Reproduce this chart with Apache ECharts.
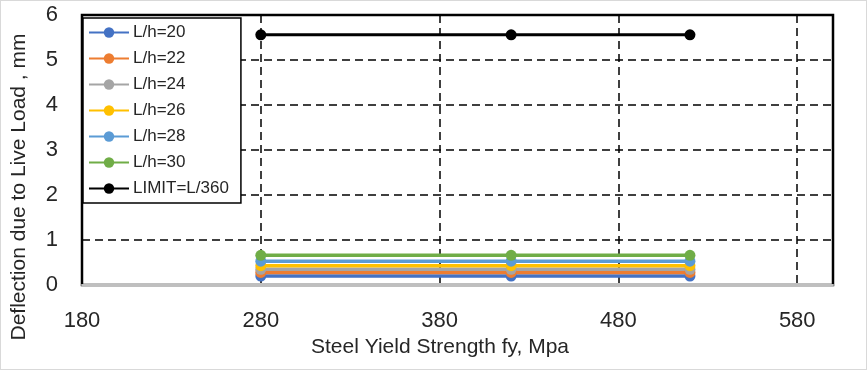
<!DOCTYPE html>
<html><head><meta charset="utf-8">
<script src="https://cdn.jsdelivr.net/npm/echarts@6/dist/echarts.min.js"></script>
<style>html,body{margin:0;padding:0;background:#fff}#c{width:867px;height:370px;box-sizing:border-box;border:1px solid #d9d9d9}</style>
</head><body><div id="c"></div>
<script>
const fy = [280, 420, 520];
const seriesNames = ['L/h=20','L/h=22','L/h=24','L/h=26','L/h=28','L/h=30','LIMIT=L/360'];
const lh20 = [0.20, 0.20, 0.20];
const lh22 = [0.28, 0.28, 0.28];
const lh24 = [0.35, 0.35, 0.35];
const lh26 = [0.43, 0.43, 0.43];
const lh28 = [0.53, 0.53, 0.53];
const lh30 = [0.66, 0.66, 0.66];
const limit = [5.56, 5.56, 5.56];
const colors = ['#4472c4','#ed7d31','#a5a5a5','#ffc000','#5b9bd5','#70ad47','#000000'];
const all = [lh20, lh22, lh24, lh26, lh28, lh30, limit];
const font = 'Liberation Sans';
const chart = echarts.init(document.getElementById('c'));
chart.setOption({
  animation: false,
  textStyle: {fontFamily: font},
  grid: {left: 81, right: 33, top: 14, bottom: 84, show: true, borderColor: '#000', borderWidth: 2.5, backgroundColor: '#fff'},
  legend: {
    orient: 'vertical', left: 82, top: 17, itemWidth: 40, itemHeight: 13, itemGap: 9,
    backgroundColor: '#fff', borderColor: '#000', borderWidth: 1.5, padding: [6, 12, 6, 5],
    textStyle: {fontSize: 17, color: '#262626', fontFamily: font, padding: [0,0,0,-1]},
    data: seriesNames
  },
  xAxis: {
    type: 'value', min: 180, max: 600, interval: 100,
    name: 'Steel Yield Strength fy, Mpa', nameLocation: 'middle', nameGap: 51,
    nameTextStyle: {fontSize: 21, color: '#262626', fontFamily: font, padding: [0, 35, 0, 0]},
    axisLine: {lineStyle: {color: '#bfbfbf', width: 2}},
    axisTick: {show: false},
    axisLabel: {fontSize: 22, color: '#262626', margin: 25, showMaxLabel: false, formatter: v => v === 600 ? '' : v},
    splitLine: {show: true, lineStyle: {color: '#000', type: [8, 5], width: 1.5}}
  },
  yAxis: {
    type: 'value', min: 0, max: 6, interval: 1,
    name: 'Deflection due to Live Load , mm', nameLocation: 'middle', nameGap: 52,
    nameTextStyle: {fontSize: 21, color: '#262626', fontFamily: font, padding: [0, 74, 0, 0]},
    axisLine: {show: true, lineStyle: {color: '#000', width: 1.5}},
    axisTick: {show: false},
    axisLabel: {fontSize: 22, color: '#262626', margin: 24},
    splitLine: {show: true, lineStyle: {color: '#000', type: [8, 5], width: 1.5}}
  },
  series: seriesNames.map((n, i) => ({
    name: n, type: 'line', data: fy.map((x, j) => [x, all[i][j]]),
    symbol: 'circle', symbolSize: 11, color: colors[i],
    lineStyle: {width: i === 6 ? 3 : 3.5, color: colors[i]},
    itemStyle: {color: colors[i]}
  }))
});
</script></body></html>
